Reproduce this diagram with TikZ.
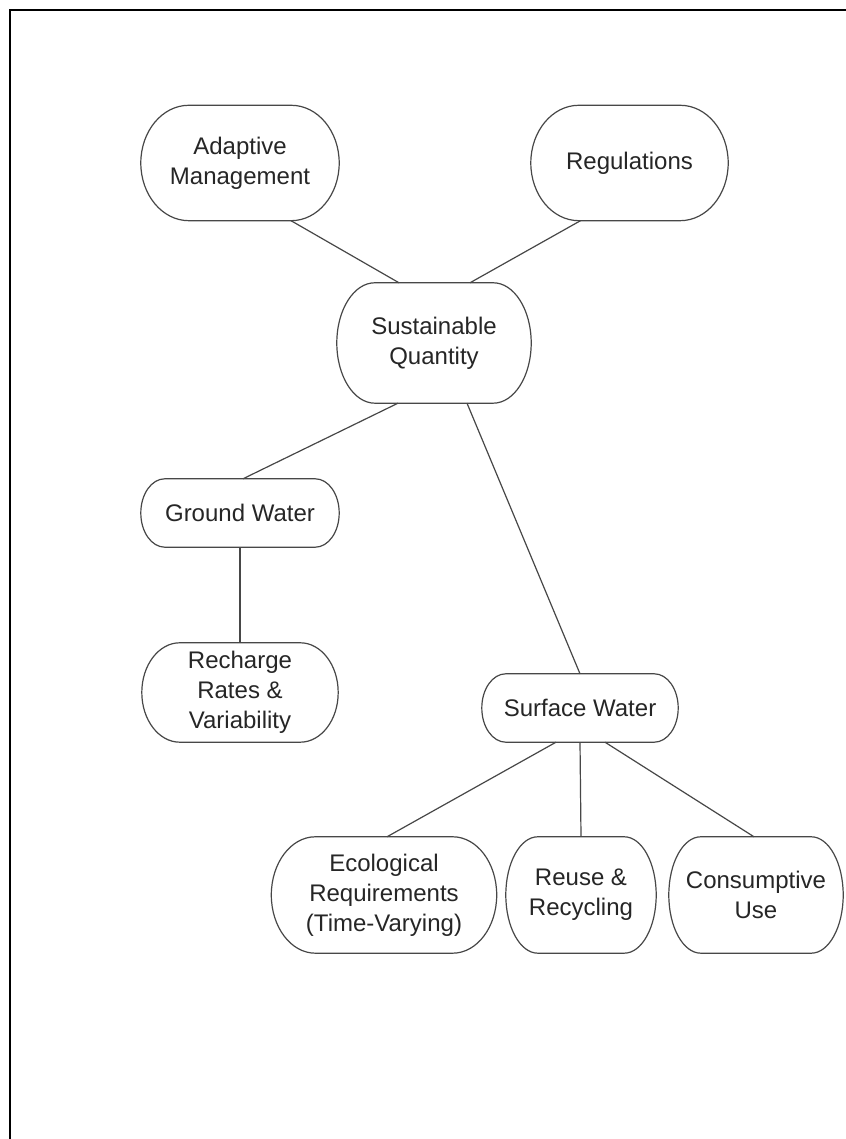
\documentclass[tikz,border=0pt]{standalone}
\usepackage{fontspec}
\setmainfont{Liberation Sans}
\usetikzlibrary{calc}
\tikzset{
  bubble/.style={inner sep=0pt, align=center, text=black!85,
    font=\fontsize{24}{30}\selectfont},
  link/.style={draw=black!72, line width=1.2pt},
  outline/.style={draw=black!72, line width=1.2pt},
  frame/.style={draw=black, line width=2.5pt},
}
\newcommand{\stadium}[2]{%
  \draw[outline] let \p1=(#1.north), \p2=(#1.south), \n1={0.5*(\y1-\y2)} in
    ([xshift=#2pt]#1.north west) -- ([xshift=-#2pt]#1.north east)
    arc[start angle=90, end angle=-90, x radius=#2pt, y radius=\n1]
    -- ([xshift=#2pt]#1.south west)
    arc[start angle=270, end angle=90, x radius=#2pt, y radius=\n1] -- cycle;}
\begin{document}
\begin{tikzpicture}[x=1pt,y=1pt]
\useasboundingbox (0,0) rectangle (845,1139);
\fill[white] (0,0) rectangle (845,1139);
\draw[frame] (10,-20) -- (10,1129) -- (870,1129);

\node[bubble, minimum width=198pt, minimum height=115pt] (am) at (240,976) {Adaptive\\Management};
\node[bubble, minimum width=197pt, minimum height=115pt] (reg) at (629.5,976) {Regulations};
\node[bubble, minimum width=194pt, minimum height=120pt] (sq) at (434,796) {Sustainable\\Quantity};
\node[bubble, minimum width=198pt, minimum height=68pt] (gw) at (240,626) {Ground Water};
\node[bubble, minimum width=196pt, minimum height=99pt] (rr) at (240,446.5) {Recharge\\Rates \&\\Variability};
\node[bubble, minimum width=196pt, minimum height=68pt] (sw) at (580,431) {Surface Water};
\node[bubble, minimum width=225pt, minimum height=116pt] (eco) at (384,244) {Ecological\\Requirements\\(Time-Varying)};
\node[bubble, minimum width=150pt, minimum height=116pt] (reuse) at (581,244) {Reuse \&\\Recycling};
\node[bubble, minimum width=174pt, minimum height=116pt] (cons) at (756,244) {Consumptive\\Use};

\stadium{am}{48}
\stadium{reg}{48}
\stadium{sq}{38}
\stadium{gw}{24}
\stadium{rr}{38}
\stadium{sw}{24}
\stadium{eco}{44}
\stadium{reuse}{32}
\stadium{cons}{32}

\draw[link] ([xshift=51pt]am.south) -- ([xshift=-35pt]sq.north);
\draw[link] ([xshift=-49pt]reg.south) -- ([xshift=36pt]sq.north);
\draw[link] ([xshift=-36pt]sq.south) -- ([xshift=3pt]gw.north);
\draw[link] ([xshift=33pt]sq.south) -- (sw.north);
\draw[link] (gw.south) -- (rr.north);
\draw[link] ([xshift=-24pt]sw.south) -- ([xshift=3pt]eco.north);
\draw[link] (sw.south) -- (reuse.north);
\draw[link] ([xshift=25pt]sw.south) -- ([xshift=-2pt]cons.north);
\end{tikzpicture}
\end{document}
